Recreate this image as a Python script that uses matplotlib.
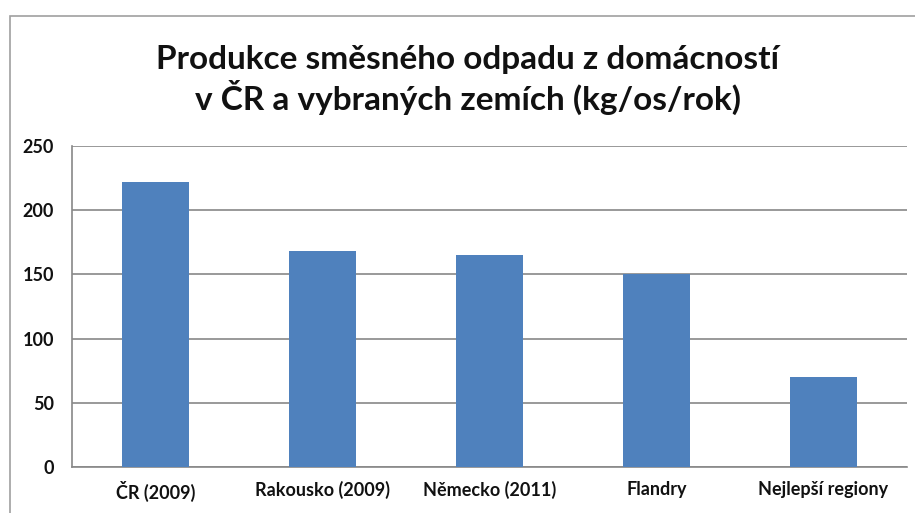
import matplotlib
matplotlib.use("Agg")
import matplotlib.pyplot as plt
from matplotlib.patches import Rectangle

# ---------- Data ----------

categories = ["ČR (2009)", "Rakousko (2009)", "Německo (2011)", "Flandry", "Nejlepší regiony"]
values = [222, 168, 165, 150, 70]
y_ticks = [0, 50, 100, 150, 200, 250]

title = "Produkce směsného odpadu z domácností\nv ČR a vybraných zemích (kg/os/rok)"

# ---------- Plot ----------

plt.rcParams["font.family"] = ["Lato", "DejaVu Sans"]

fig = plt.figure(figsize=(9.15, 5.13), dpi=100)

# outer chart border (only top and left visible in the crop)
fig.add_artist(Rectangle((10 / 915, -0.1), 1.2, (513 - 16) / 513 + 0.1,
                         transform=fig.transFigure, fill=False,
                         edgecolor="#a0a0a0", linewidth=1.2))

ax = fig.add_axes([72 / 915, (513 - 467) / 513, (907 - 72) / 915, (467 - 146) / 513])

x = range(len(categories))
ax.bar(x, values, width=0.4, color="#4f81bd", zorder=3)

ax.set_xlim(-0.5, len(categories) - 0.5)
ax.set_ylim(0, 250)
ax.set_yticks(y_ticks)
ax.set_yticklabels([str(t) for t in y_ticks], fontsize=13, fontweight="bold")
ax.set_xticks(list(x))
ax.set_xticklabels(categories, fontsize=13, fontweight="bold")

ax.grid(True, axis="y", color="#888888", linewidth=1.2, zorder=0)
ax.tick_params(axis="both", length=0, colors="#111111")
ax.tick_params(axis="y", pad=13)
ax.tick_params(axis="x", pad=10)

for side in ["top", "right"]:
    ax.spines[side].set_visible(False)
ax.spines["left"].set_color("#888888")
ax.spines["bottom"].set_color("#888888")
ax.spines["left"].set_linewidth(1.2)
ax.spines["bottom"].set_linewidth(1.2)

fig.text(468 / 915, 1 - 80 / 513, title, ha="center", va="center",
         fontsize=24, fontweight="bold", color="#111111", linespacing=1.2)

plt.savefig("out.png", dpi=100)
